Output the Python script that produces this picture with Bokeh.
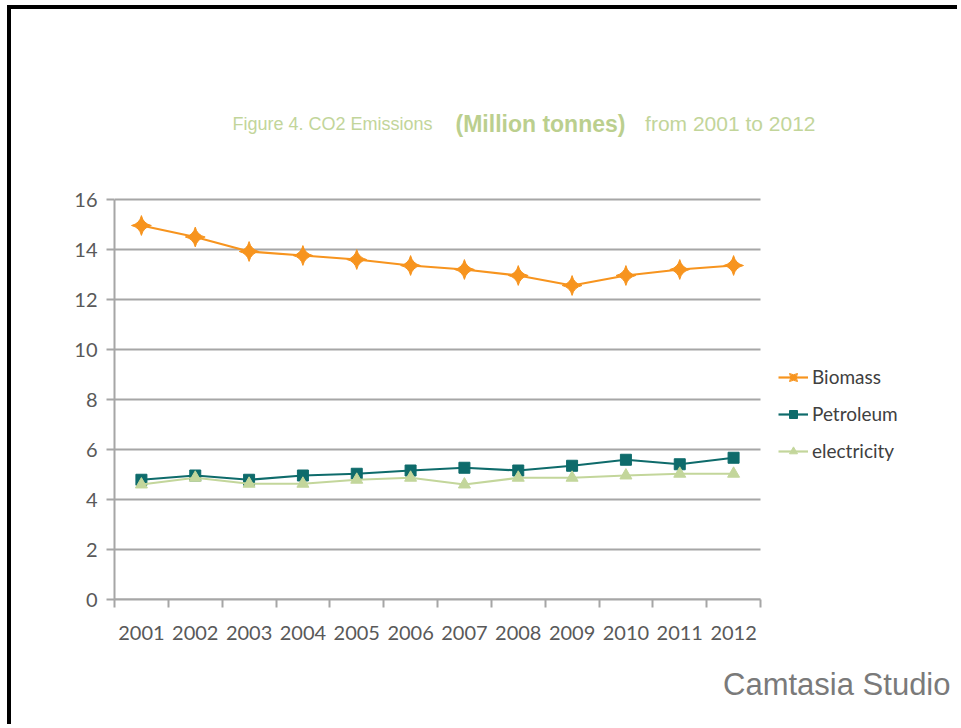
import math
from bokeh.plotting import figure
from bokeh.models import Range1d, FixedTicker, Legend, LegendItem, Label, Title, ColumnDataSource
from bokeh.embed import file_html
from bokeh.resources import INLINE

years = [2001, 2002, 2003, 2004, 2005, 2006, 2007, 2008, 2009, 2010, 2011, 2012]
biomass = [14.96, 14.5, 13.92, 13.76, 13.6, 13.36, 13.2, 12.96, 12.56, 12.96, 13.2, 13.36]
petroleum = [4.79, 4.96, 4.79, 4.96, 5.03, 5.16, 5.27, 5.16, 5.35, 5.59, 5.41, 5.67]
electricity = [4.6, 4.87, 4.63, 4.63, 4.79, 4.87, 4.6, 4.87, 4.87, 4.96, 5.03, 5.03]
y_ticks = [0, 2, 4, 6, 8, 10, 12, 14, 16]
series_names = ["Biomass", "Petroleum", "electricity"]

GRID = "#A6A6A6"
TICKTXT = "#595959"
FONT = "Lato"

# Layout geometry (page px): figure content starts at (11, 9) inside the black frame lines
FIG_W, FIG_H = 950, 719
LEFT, BOTTOM = 103, 129            # chart area left edge page x 114, bottom page y 599
frame_w = FIG_W - LEFT             # 847
frame_h = FIG_H - BOTTOM           # 590
x0, x1 = years[0] - 0.5, years[-1] + 0.5
px_per_x = 646 / (x1 - x0)
px_per_y = 400 / y_ticks[-1]

p = figure(width=FIG_W, height=FIG_H, output_backend="svg", toolbar_location=None,
           x_range=Range1d(x0, x0 + frame_w / px_per_x),
           y_range=Range1d(0, frame_h / px_per_y),
           min_border_left=LEFT, min_border_right=0, min_border_top=0, min_border_bottom=BOTTOM)
p.styles = {"border-top": "4px solid black", "border-left": "4px solid black"}
p.margin = (5, 0, 0, 7)
p.outline_line_color = None
p.grid.visible = False

# x axis
p.xaxis.bounds = (x0, x1)
p.xaxis.ticker = FixedTicker(ticks=years, minor_ticks=[y - 0.5 for y in years] + [x1])
p.xaxis.major_label_overrides = {y: str(y) for y in years}
p.xaxis.major_tick_line_color = None
p.xaxis.major_tick_out = 0
p.xaxis.major_tick_in = 0
p.xaxis.minor_tick_line_color = GRID
p.xaxis.minor_tick_line_width = 2
p.xaxis.minor_tick_out = 8
p.xaxis.minor_tick_in = 0
p.xaxis.axis_line_color = GRID
p.xaxis.axis_line_width = 2
p.xaxis.major_label_standoff = 18
p.xaxis.major_label_text_font = FONT
p.xaxis.major_label_text_font_size = "20px"
p.xaxis.major_label_text_color = TICKTXT

# y axis
p.yaxis.bounds = (y_ticks[0], y_ticks[-1])
p.yaxis.ticker = FixedTicker(ticks=y_ticks)
p.yaxis.major_tick_line_color = GRID
p.yaxis.major_tick_line_width = 2
p.yaxis.major_tick_out = 8
p.yaxis.major_tick_in = 0
p.yaxis.minor_tick_line_color = None
p.yaxis.axis_line_color = GRID
p.yaxis.axis_line_width = 2
p.yaxis.major_label_standoff = 9
p.yaxis.major_label_text_font = FONT
p.yaxis.major_label_text_font_size = "20px"
p.yaxis.major_label_text_color = TICKTXT

# horizontal gridlines, limited to the chart area
p.segment(x0=[x0] * len(y_ticks), x1=[x1] * len(y_ticks), y0=y_ticks, y1=y_ticks,
          line_color=GRID, line_width=2, level="underlay")

src = ColumnDataSource(dict(year=years, biomass=biomass, petroleum=petroleum, electricity=electricity))

styles = [
    ("biomass", "#F7941E", "square_pin", 14, math.pi / 4),
    ("petroleum", "#0E6B6B", "square", 11, 0.0),
    ("electricity", "#C3D69B", "triangle", 12, 0.0),
]
items = []
for (col, color, marker, size, ang), name in zip(styles, series_names):
    l = p.line("year", col, source=src, line_color=color, line_width=2.2)
    s = p.scatter("year", col, source=src, marker=marker, size=size, angle=ang,
                  fill_color=color, line_color=color)
    items.append(LegendItem(label=name, renderers=[l, s]))

legend = Legend(items=items, location=(664, 137), orientation="vertical")
legend.background_fill_alpha = 0
legend.border_line_color = None
legend.padding = 0
legend.margin = 0
legend.spacing = 14
legend.glyph_width = 30
legend.glyph_height = 20
legend.label_height = 20
legend.label_standoff = 4
legend.label_text_font = FONT
legend.label_text_font_size = "19px"
legend.label_text_color = "#404040"
p.add_layout(legend, "center")

# title (inside the frame area above the chart)
TITLE = "#C2D59A"
ty = 599 - 123
p.add_layout(Label(x=232 - 114, y=ty, x_units="screen", y_units="screen",
                   text="Figure 4. CO2 Emissions", text_font="Liberation Sans",
                   text_font_size="18px", text_color=TITLE, text_baseline="middle", text_align="left"))
p.add_layout(Label(x=540 - 114, y=ty, x_units="screen", y_units="screen",
                   text="(Million tonnes)", text_font="Liberation Sans", text_font_style="bold",
                   text_font_size="23px", text_color="#BBCF8E", text_baseline="middle", text_align="center"))
p.add_layout(Label(x=815 - 114, y=ty, x_units="screen", y_units="screen",
                   text="from 2001 to 2012", text_font="Liberation Sans",
                   text_font_size="21px", text_color=TITLE, text_baseline="middle", text_align="right"))

# watermark below the axis
p.add_layout(Title(text="Camtasia Studio", align="right", offset=11, standoff=45,
                   text_font="Liberation Sans", text_font_size="31px", text_font_style="normal",
                   text_color="#7A7A7A"), "below")

open("out.html", "w").write(file_html(p, INLINE))
